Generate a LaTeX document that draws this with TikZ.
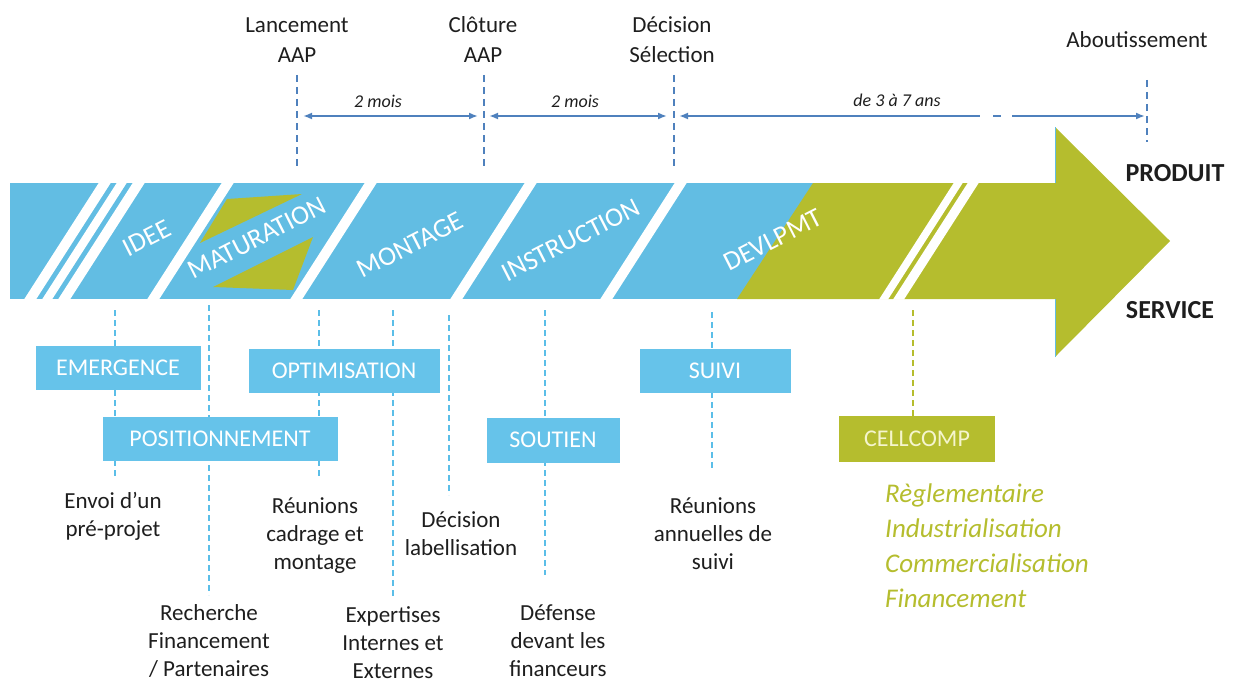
\documentclass[tikz,border=0pt]{standalone}
\usepackage{fontspec}
\setmainfont{Carlito}
\usetikzlibrary{arrows.meta}
\definecolor{bandblue}{RGB}{98,189,227}
\definecolor{boxblue}{RGB}{102,195,234}
\definecolor{lgreen}{RGB}{181,189,46}
\definecolor{arrblue}{RGB}{79,129,189}
\definecolor{dashblue}{RGB}{91,190,232}
\definecolor{pale}{RGB}{245,245,205}
\definecolor{ink}{RGB}{30,30,30}
\begin{document}
\begin{tikzpicture}[x=1pt,y=-1pt,
  toptext/.style={font=\fontsize{23}{30}\selectfont, align=center, inner sep=0pt, text=ink},
  durtext/.style={font=\fontsize{18}{22}\selectfont\itshape, inner sep=0pt, text=ink},
  bandtext/.style={font=\fontsize{27}{30}\selectfont, text=white, rotate=27, inner sep=0pt},
  phase/.style={fill=boxblue, text=white, font=\fontsize{24}{28}\selectfont, minimum height=44pt, inner sep=0pt},
  note/.style={font=\fontsize{23}{28}\selectfont, align=center, inner sep=0pt, text=ink},
  tick/.style={draw=arrblue, line width=2.2pt, dash pattern=on 7pt off 5pt},
  span/.style={draw=arrblue, line width=1.8pt, >={Latex[length=9pt,width=7pt]}},
  guide/.style={draw=dashblue, line width=2.5pt, dash pattern=on 6pt off 4pt},
  gguide/.style={draw=lgreen, line width=2.5pt, dash pattern=on 6pt off 4pt},
  sidetext/.style={font=\fontsize{26}{30}\selectfont\bfseries, inner sep=0pt, text=ink}
]
\useasboundingbox (0,0) rectangle (1238,682);

% ---------- band / arrow ----------
\fill[bandblue] (10,183) rectangle (1056,299);
\fill[lgreen] (813,183) -- (1056,183) -- (1056,299) -- (737,299) -- cycle;
\fill[lgreen] (1055,127) -- (1170,241) -- (1055,357) -- cycle;
\draw[bandblue, line width=1pt] (1055,127) -- (1055,183) (1055,299) -- (1055,357);
\foreach \b/\w in {24/12, 42/10, 58/12, 147/12, 290/12, 450/12, 600/12, 879/9, 893/11}
  \fill[white] (\b,299.5) -- (\b+\w,299.5) -- (\b+\w+75,182.5) -- (\b+75,182.5) -- cycle;
\fill[lgreen] (227,199) -- (302,194) -- (200,243) -- cycle;
\fill[lgreen] (313,237) -- (213,287) -- (293,290) -- cycle;

\node[bandtext] (idee) at (147,238) {IDEE};
\node[bandtext] (matur) at (257,238) {MATURATION};
\node[bandtext] (mont) at (410,245) {MONTAGE};
\node[bandtext] (instr) at (571,240) {INSTRUCTION};
\node[bandtext] (devl) at (773,240) {DEVLPMT};

\node[sidetext] (produit) at (1175,173) {PRODUIT};
\node[sidetext] (service) at (1170,310) {SERVICE};

% ---------- top timeline ----------
\node[toptext] (lanc) at (297,40) {Lancement\\AAP};
\node[toptext] (clot) at (483,40) {Clôture\\AAP};
\node[toptext] (deci) at (672,40) {Décision\\Sélection};
\node[toptext] (abou) at (1137,40) {Aboutissement};

\coordinate (t1a) at (297,75);  \coordinate (t1b) at (297,168);
\coordinate (t2a) at (484,75);  \coordinate (t2b) at (484,168);
\coordinate (t3a) at (674,75);  \coordinate (t3b) at (674,168);
\coordinate (t4a) at (1147,80); \coordinate (t4b) at (1147,142);
\draw[tick] (t1a) -- (t1b);
\draw[tick] (t2a) -- (t2b);
\draw[tick] (t3a) -- (t3b);
\draw[tick] (t4a) -- (t4b);

\coordinate (s1a) at (303,116); \coordinate (s1b) at (478,116);
\coordinate (s2a) at (489,116); \coordinate (s2b) at (667,116);
\coordinate (s3a) at (679,116); \coordinate (s3b) at (980,116);
\coordinate (s3c) at (993,116); \coordinate (s3d) at (1001,116);
\coordinate (s3e) at (1012,116); \coordinate (s3f) at (1145,116);
\draw[span, <->] (s1a) -- (s1b);
\draw[span, <->] (s2a) -- (s2b);
\draw[span, <-] (s3a) -- (s3b);
\draw[span] (s3c) -- (s3d);
\draw[span, ->] (s3e) -- (s3f);

\node[durtext] (d1) at (378,101) {2 mois};
\node[durtext] (d2) at (575,101) {2 mois};
\node[durtext] (d3) at (897,100) {de 3 à 7 ans};

% ---------- guides under band ----------
\coordinate (g1a) at (115,310); \coordinate (g1b) at (115,478);
\coordinate (g2a) at (209,305); \coordinate (g2b) at (209,595);
\coordinate (g3a) at (319,310); \coordinate (g3b) at (319,478);
\coordinate (g4a) at (393,310); \coordinate (g4b) at (393,599);
\coordinate (g5a) at (449,315); \coordinate (g5b) at (449,495);
\coordinate (g6a) at (545,310); \coordinate (g6b) at (545,575);
\coordinate (g7a) at (712,312); \coordinate (g7b) at (712,470);
\coordinate (g8a) at (913,310); \coordinate (g8b) at (913,416);
\draw[guide] (g1a) -- (g1b);
\draw[guide] (g2a) -- (g2b);
\draw[guide] (g3a) -- (g3b);
\draw[guide] (g4a) -- (g4b);
\draw[guide] (g5a) -- (g5b);
\draw[guide] (g6a) -- (g6b);
\draw[guide] (g7a) -- (g7b);
\draw[gguide] (g8a) -- (g8b);

% ---------- phase boxes ----------
\node[phase, minimum width=165pt] (emer) at (118,368) {EMERGENCE};
\node[phase, minimum width=191pt] (opti) at (344,371) {OPTIMISATION};
\node[phase, minimum width=235pt] (posi) at (220,439) {POSITIONNEMENT};
\node[phase, minimum width=133pt, minimum height=45pt] (sout) at (553,440) {SOUTIEN};
\node[phase, minimum width=151pt] (suiv) at (715,371) {SUIVI};
\node[phase, fill=lgreen, text=pale, minimum width=156pt, minimum height=46pt] (cell) at (917,439) {CELLCOMP};

% ---------- notes ----------
\node[note] (n1) at (113,516) {Envoi d’un\\pré-projet};
\node[note] (n2) at (209,641) {Recherche\\Financement\\/ Partenaires};
\node[note] (n3) at (315,536) {Réunions\\cadrage et\\montage};
\node[note] (n4) at (393,643) {Expertises\\Internes et\\Externes};
\node[note] (n5) at (461,534) {Décision\\labellisation};
\node[note] (n6) at (558,641) {Défense\\devant les\\financeurs};
\node[note] (n7) at (713,534) {Réunions\\annuelles de\\suivi};
\node[font=\fontsize{27}{35}\selectfont\itshape, text=lgreen, align=left, inner sep=0pt, anchor=west] (n8) at (885,546)
  {Règlementaire\\Industrialisation\\Commercialisation\\Financement};
\end{tikzpicture}
\end{document}
